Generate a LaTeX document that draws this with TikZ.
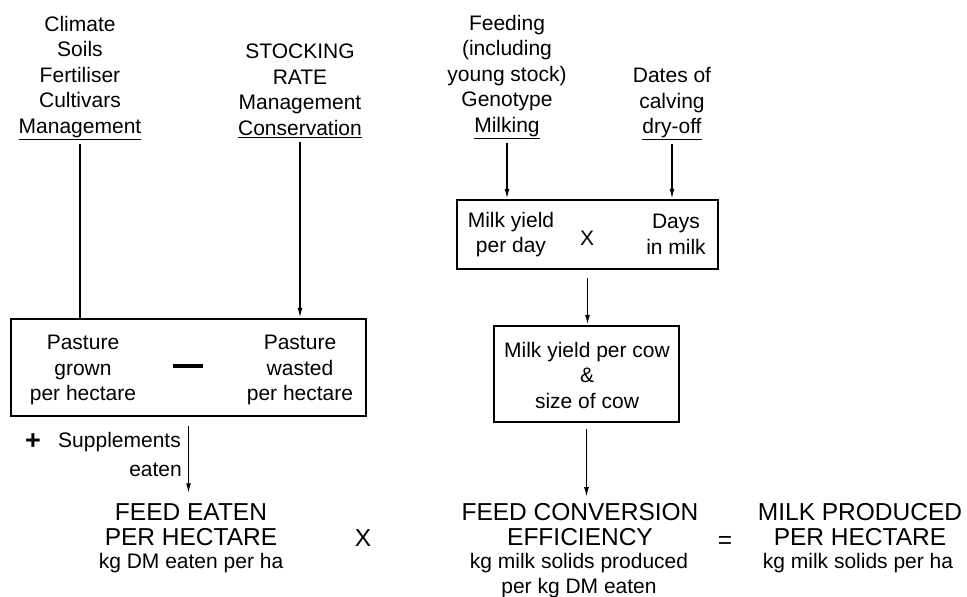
\documentclass[tikz,border=0pt]{standalone}
\usepackage{fontspec}
\setmainfont{Liberation Sans}
\usetikzlibrary{arrows.meta}
\begin{document}
\begin{tikzpicture}[x=1pt,y=-1pt,
  txt/.style={align=center,inner sep=0pt,font=\fontsize{21}{25.5}\selectfont},
  big/.style={align=center,inner sep=0pt,font=\fontsize{24.5}{25}\selectfont},
  boxx/.style={draw,line width=2.5pt,inner sep=0pt},
  conn/.style={line width=1.5pt},
  arr/.style={conn,-{Latex[length=10pt,width=5pt]}}]
\useasboundingbox (0,0) rectangle (967,597);

% top texts
\node[txt] (tl) at (80,78) {Climate\\Soils\\Fertiliser\\Cultivars\\\underline{Management}};
\node[txt] (tm) at (300,91) {STOCKING\\RATE\\Management\\\underline{Conservation}};
\node[txt] (tf) at (507,77) {Feeding\\(including\\young stock)\\Genotype\\\underline{Milking}};
\node[txt] (td) at (672,104) {Dates of\\calving\\\underline{dry-off}};

% left box
\node[boxx,minimum width=355pt,minimum height=97pt] (b1) at (188.5,367.5) {};
\node[txt] (pg) at (83,370) {Pasture\\grown\\per hectare};
\node[inner sep=0pt] (minus) at (188,366) {\rule{30pt}{3.5pt}};
\node[txt] (pw) at (300,370) {Pasture\\wasted\\per hectare};

% right boxes
\node[boxx,minimum width=261pt,minimum height=69pt] (b2) at (587.5,234.5) {};
\node[txt] (my) at (511,234.5) {Milk yield\\per day};
\node[txt] (x1) at (587,238) {X};
\node[txt] (dm) at (676,234.5) {Days\\in milk};
\node[boxx,minimum width=185pt,minimum height=96pt] (b3) at (586.5,374) {};
\node[txt] (mc) at (587,375) {Milk yield per cow\\\&\\size of cow};

% supplements
\node[inner sep=0pt,font=\fontsize{27}{27}\selectfont\bfseries] (plus) at (33,442) {+};
\node[txt,anchor=east] (sup) at (181,442) {Supplements};
\node[txt,anchor=east] (eat) at (182,470) {eaten};

% bottom
\node[big] (fe) at (191,524.5) {FEED EATEN\\PER HECTARE};
\node[txt] (fes) at (191,563) {kg DM eaten per ha};
\node[big] (x2) at (363,538) {X};
\node[big] (fce) at (580,524.5) {FEED CONVERSION\\EFFICIENCY};
\node[txt] (fces) at (579,575.5) {kg milk solids produced\\per kg DM eaten};
\node[big] (eq) at (725,542) {=};
\node[big] (mp) at (860,524.5) {MILK PRODUCED\\PER HECTARE};
\node[txt] (mps) at (858,563) {kg milk solids per ha};

% connectors
\draw[conn,shorten <=4pt] (tl.south) -- (tl.south |- b1.north);
\draw[arr,shorten <=4pt] (tm.south) -- (tm.south |- b1.north);
\draw[arr,shorten <=4pt] (tf.south) -- (tf.south |- b2.north);
\draw[arr,shorten <=4pt] (td.south) -- (td.south |- b2.north);
\draw[arr,shorten <=8pt] (b2.south) -- (b2.south |- b3.north);
\draw[arr,shorten <=6pt,shorten >=6pt] (b3.south) -- (b3.south |- fce.north);
\draw[arr,shorten <=9pt,shorten >=10pt] (b1.south) -- (b1.south |- fe.north);
\end{tikzpicture}
\end{document}
